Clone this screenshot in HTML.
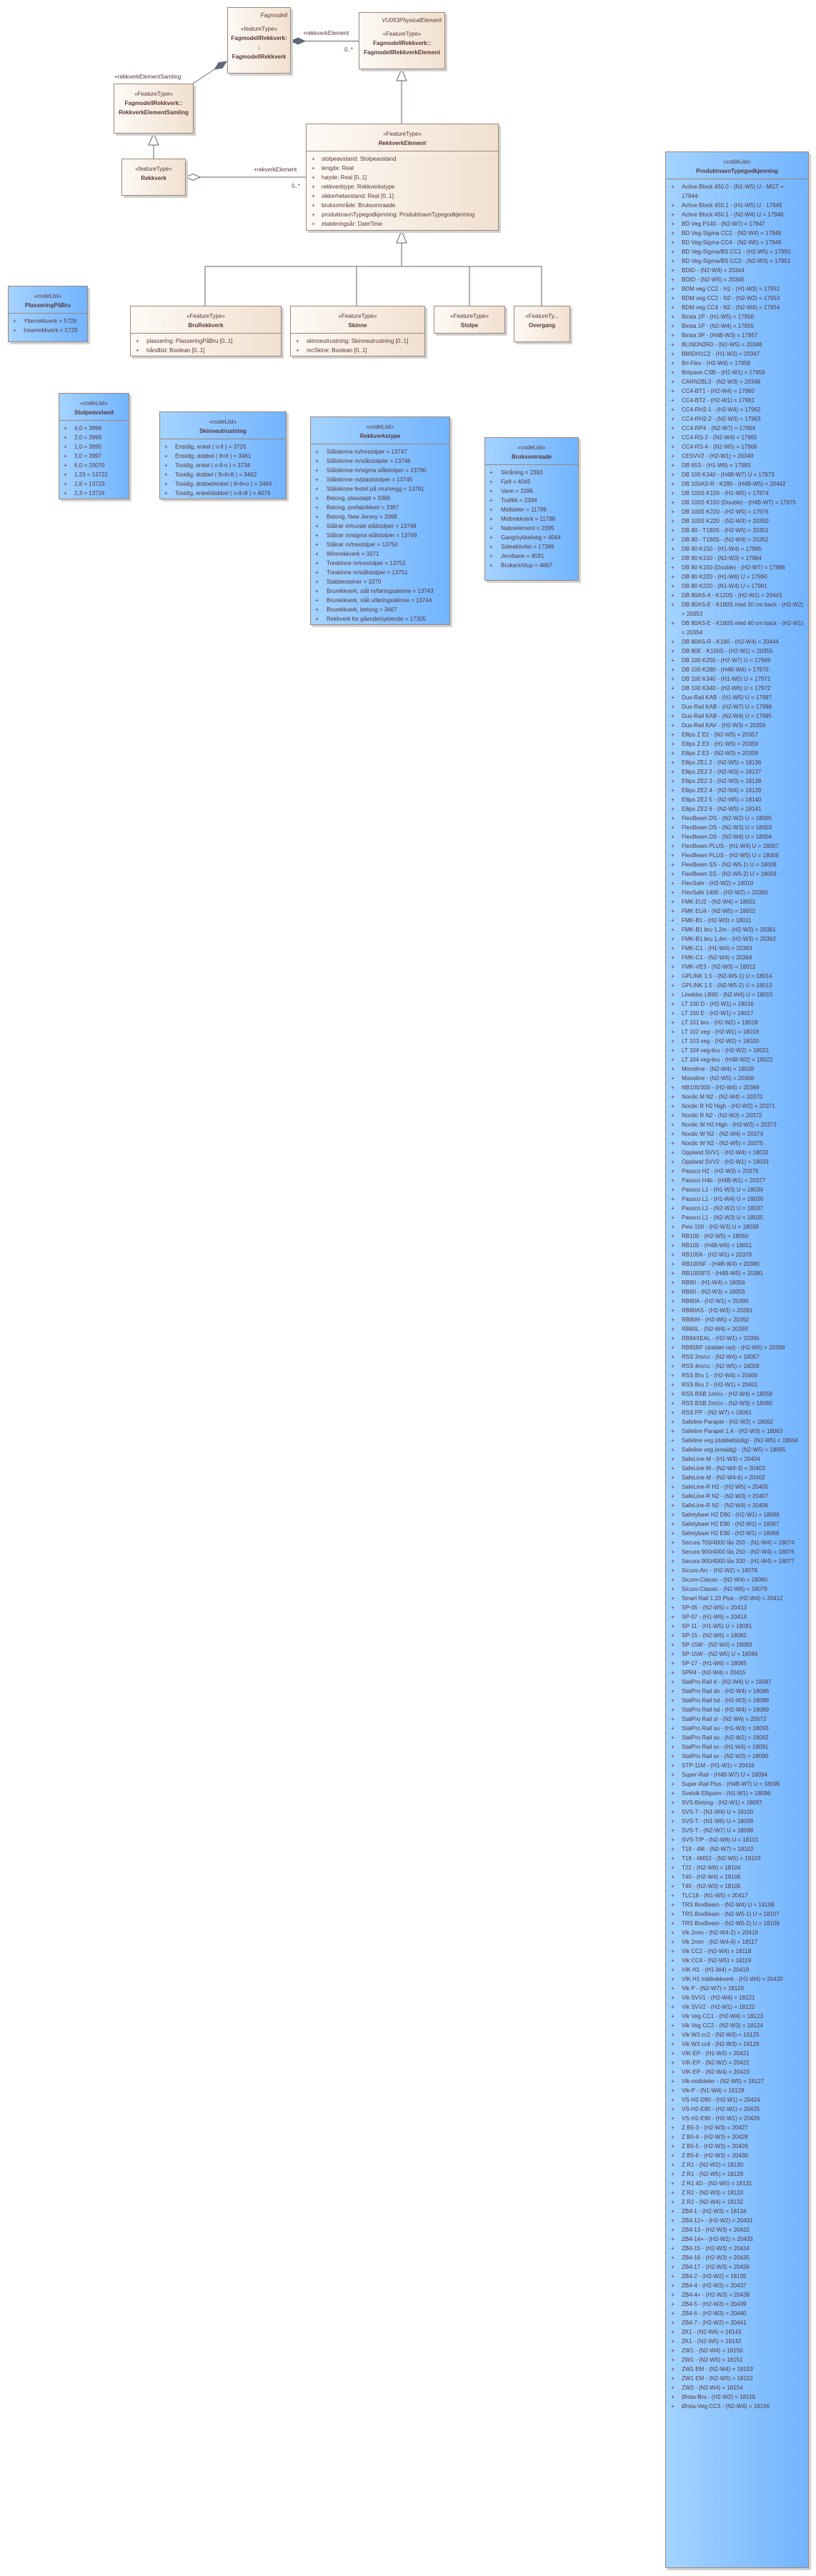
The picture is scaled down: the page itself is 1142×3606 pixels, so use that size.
<!DOCTYPE html>
<html><head><meta charset="utf-8">
<style>
html,body{margin:0;padding:0;background:#fff;}
body{width:1142px;height:3606px;position:relative;overflow:hidden;font-family:"Liberation Sans",sans-serif;}
.box{position:absolute;box-sizing:border-box;border:1px solid #9c8578;box-shadow:3px 3px 0 #d2d2d2;font-size:8px;color:#5a3636;overflow:hidden;}
.ft{background:linear-gradient(90deg,#fdfaf6,#f1e0cf);}
.cl{background:linear-gradient(90deg,#a4d3ff,#72b4ff);}
.t{position:absolute;left:0;right:0;text-align:center;line-height:13px;white-space:nowrap;}
.b{font-weight:bold;}
.i{font-style:italic;}
.r{text-align:right;right:4px;left:auto;}
.div{position:absolute;left:0;right:0;border-top:1px solid #9c8578;}
.row{position:absolute;line-height:13px;white-space:nowrap;}
.lbl{position:absolute;font-size:8px;color:#5a3636;line-height:13px;white-space:nowrap;}
svg{position:absolute;left:0;top:0;}
</style></head><body>
<svg width="1142" height="3606">
<g stroke="#5f6678" stroke-width="1" fill="none">
<line x1="427" y1="57.5" x2="502" y2="57.5"/>
<polygon points="407,57.5 417,53 427,57.5 417,62" fill="#5f6678"/>
<line x1="300.3" y1="97" x2="270" y2="117"/>
<polygon points="317,86 306.1,87.7 300.3,97 311,95.3" fill="#5f6678"/>
<line x1="215" y1="203" x2="215" y2="222"/>
<polygon points="215,187 208,203 222,203" fill="#fff"/>
<line x1="280" y1="248" x2="428" y2="248"/>
<polygon points="260,248 270,243.5 280,248 270,252.5" fill="#fff"/>
<line x1="562" y1="113" x2="562" y2="173"/>
<polygon points="562,97 555,113 569,113" fill="#fff"/>
<line x1="562" y1="340" x2="562" y2="373"/>
<polygon points="562,323 555,340 569,340" fill="#fff"/>
<polyline points="287,428 287,373 758,373 758,428"/>
<line x1="499" y1="373" x2="499" y2="428"/>
<line x1="657" y1="373" x2="657" y2="428"/>
</g>
</svg>

<div class="lbl" style="left:424px;top:39.5px">+rekkverkElement</div>
<div class="lbl" style="left:482px;top:62.5px">0..*</div>
<div class="lbl" style="left:160px;top:100.5px">+rekkverkElementSamling</div>
<div class="lbl" style="left:355px;top:230.5px">+rekverkElement</div>
<div class="lbl" style="left:408px;top:253.5px">0..*</div>

<div class="box ft" style="left:318px;top:10px;width:89px;height:93px">
<div class="t i r" style="top:3.5px">Fagmodell</div>
<div class="t" style="top:22.5px">«featureType»</div>
<div class="t b" style="top:35.5px">FagmodellRekkverk:</div>
<div class="t b" style="top:48.5px">:</div>
<div class="t b" style="top:61.5px">FagmodellRekkverk</div>
</div>

<div class="box ft" style="left:502px;top:17px;width:121px;height:80px">
<div class="t i r" style="top:3.5px">VU053PhysicalElement</div>
<div class="t" style="top:22.5px">«FeatureType»</div>
<div class="t b" style="top:35.5px">FagmodellRekkverk::</div>
<div class="t b" style="top:48.5px">FagmodellRekkverkElement</div>
</div>

<div class="box ft" style="left:159px;top:117px;width:112px;height:70px">
<div class="t" style="top:6.5px">«FeatureType»</div>
<div class="t b" style="top:19.5px">FagmodellRekkverk::</div>
<div class="t b" style="top:32.5px">RekkverkElementSamling</div>
</div>

<div class="box ft" style="left:170px;top:222px;width:90px;height:52px">
<div class="t" style="top:6.5px">«featureType»</div>
<div class="t b" style="top:19.5px">Rekkverk</div>
</div>

<div class="box ft" style="left:428px;top:173px;width:270px;height:150px" id="re">
<div class="t" style="top:6.5px">«FeatureType»</div>
<div class="t b i" style="top:19.5px">RekkverkElement</div>
<div class="div" style="top:37px"></div>
</div>

<div class="box cl" style="left:11px;top:400px;width:112px;height:79px" id="pb">
<div class="t" style="top:6.5px">«codeList»</div>
<div class="t b" style="top:19.5px">PlasseringPåBru</div>
<div class="div" style="top:37px"></div>
</div>

<div class="box ft" style="left:182px;top:428px;width:212px;height:71px" id="br">
<div class="t" style="top:6.5px">«FeatureType»</div>
<div class="t b" style="top:19.5px">BruRekkverk</div>
<div class="div" style="top:37px"></div>
</div>

<div class="box ft" style="left:406px;top:428px;width:189px;height:71px" id="sk">
<div class="t" style="top:6.5px">«FeatureType»</div>
<div class="t b" style="top:19.5px">Skinne</div>
<div class="div" style="top:37px"></div>
</div>

<div class="box ft" style="left:607px;top:428px;width:100px;height:39px">
<div class="t" style="top:6.5px">«FeatureType»</div>
<div class="t b" style="top:19.5px">Stolpe</div>
</div>

<div class="box ft" style="left:719px;top:428px;width:79px;height:51px">
<div class="t" style="top:6.5px">«FeatureTy...</div>
<div class="t b" style="top:19.5px">Overgang</div>
</div>

<div class="box cl" style="left:82px;top:550px;width:99px;height:149px" id="sa">
<div class="t" style="top:6.5px">«codeList»</div>
<div class="t b" style="top:19.5px">Stolpeavstand</div>
<div class="div" style="top:37px"></div>
</div>

<div class="box cl" style="left:223px;top:576px;width:178px;height:123px" id="su">
<div class="t" style="top:6.5px">«codeList»</div>
<div class="t b" style="top:19.5px">Skinneutrustning</div>
<div class="div" style="top:37px"></div>
</div>

<div class="box cl" style="left:434px;top:583px;width:196px;height:292px" id="rt">
<div class="t" style="top:6.5px">«codeList»</div>
<div class="t b" style="top:19.5px">Rekkverkstype</div>
<div class="div" style="top:37px"></div>
</div>

<div class="box cl" style="left:678px;top:612px;width:132px;height:201px" id="bo">
<div class="t" style="top:6.5px">«codeList»</div>
<div class="t b" style="top:19.5px">Bruksomraade</div>
<div class="div" style="top:37px"></div>
</div>

<div class="box cl" style="left:931px;top:212px;width:201px;height:3383px" id="pt">
<div class="t" style="top:6.5px">«codeList»</div>
<div class="t b" style="top:19.5px">ProduktnavnTypegodkjenning</div>
<div class="div" style="top:37px"></div>
</div>

<script>
const reAttrs = ["stolpeavstand: Stolpeavstand","lengde: Real","høyde: Real [0..1]","rekkverktype: Rekkverkstype","sikkerhetavstand: Real [0..1]","bruksområde: Bruksomraade","produktnavnTypegodkjenning: ProduktnavnTypegodkjenning","etableringsår: DateTime"];
const pbItems = ["Ytterrekkverk = 5728","Innerrekkverk = 5729"];
const brAttrs = ["plassering: PlasseringPåBru [0..1]","håndlist: Boolean [0..1]"];
const skAttrs = ["skinneutrustning: Skinneutrustning [0..1]","mcSkine: Boolean [0..1]"];
const saItems = ["4,0 = 3998","2,0 = 3996","1,0 = 3995","3,0 = 3997","6,0 = 20070","1,33 = 13722","1,8 = 13723","2,3 = 13724"];
const suItems = ["Ensidig, enkel ( o-ll ) = 3725","Ensidig, dobbel ( 8=ll ) = 3461","Tosidig, enkel ( o-ll-o ) = 3734","Tosidig, dobbel ( 8=ll=8 ) = 3462","Tosidig, dobbel/enkel ( 8=ll=o ) = 3464","Tosidig, enkel/dobbel ( o-ll=8 ) = 4076"];
const rtItems = ["Stålskinne m/trestolper = 13747","Stålskinne m/stålstolpler = 13746","Stålskinne m/sigma stålstolper = 13790","Stålskinne m/plaststolper = 13745","Stålskinne festet på mur/vegg = 13791","Betong, plasstøpt = 3366","Betong, prefabrikkert = 3367","Betong, New Jersey = 3368","Stålrør m/runde stålstolper = 13748","Stålrør m/sigma stålstolper = 13749","Stålrør m/trestolper = 13750","Wirerekkverk = 3371","Treskinne m/trestolper = 13752","Treskinne m/stålstolper = 13751","Stabbesteiner = 3370","Brurekkverk, stål m/føringsskinne = 13743","Brurekkverk, stål u/føringsskinne = 13744","Brurekkverk, betong = 3467","Rekkverk for gående/syklende = 17305"];
const boItems = ["Skråning = 2393","Fjell = 4045","Vann = 2396","Trafikk = 2394","Midtdeler = 11789","Midtrekkverk = 11788","Naboelement = 2395","Gang/sykkelveg = 4044","Sideaktivitet = 17369","Jernbane = 4591","Brukant/stup = 4667"];
const ptItems = ["Active Block 450.0 - (N1-W5) U - MGT =|17944-","Active Block 450.1 - (H1-W5) U - 17945","Active Block 450.1 - (N2-W4) U = 17946","BD Veg P140 - (N2-W7) = 17947","BD Veg-Sigma CC2  - (N2-W4) = 17948","BD Veg-Sigma CC4 - (N2-W5) = 17949","BD Veg-Sigma/BS CC1  - (H2-W5) = 17950","BD Veg-Sigma/BS CC2 - (N2-W3) = 17951","BDID - (N2-W4) = 20344","BDID - (N2-W5) = 20345","BDM veg CC2 - H1 - (H1-W3) = 17952","BDM veg CC2 - N2 - (N2-W2) = 17953","BDM veg CC4 - N2 - (N2-W4) = 17954","Birsta 1P - (H1-W5) = 17956","Birsta 1P - (N2-W4) = 17955","Birsta 3P - (H4B-W3) = 17957","BLINDN2R0 - (N2-W5) = 20346","BMIDH1C2 - (H1-W3) = 20347",
"Bri-Flex - (H2-W4) = 17958","Britpave CSB  - (H2-W1) = 17959","CARN2BL3 - (N2-W3) = 20348","CC4-BT1 - (H2-W4) = 17960","CC4-BT2 - (H2-W1) = 17961","CC4-RH2-1 - (H2-W4) = 17962","CC4-RH2-2 - (N2-W3) = 17963","CC4-RP4 - (N2-W7) = 17964","CC4-RS-2 - (N2-W4) = 17965","CC4-RS-4  - (N2-W5) = 17966","CESVV2 - (H2-W1) = 20349","DB 65S - (H1-W6) = 17983","DB 100 K340 - (H4B-W7) U = 17973","DB 100AS-R - K280 - (H4B-W5) = 20442","DB 100S K150 - (H1-W5) = 17974","DB 100S K150 (Double) - (H4B-W7) = 17975","DB 100S K220 - (H2-W5) = 17976","DB 100S K220 - (N2-W3) = 20350","DB 80 - T180S - (H2-W5) = 20351","DB 80 - T180S - (N2-W4) = 20352","DB 80 K150 - (H1-W4) = 17985","DB 80 K150 - (N2-W3) = 17984","DB 80 K150 (Double) - (H2-W7) = 17986","DB 80 K220 - (H1-W6) U = 17990","DB 80 K220 - (N1-W4) U = 17991","DB 80AS-A - K120S - (H2-W1) = 20443","DB 80AS-E - K180S med 30 cm back - (H2-W2)|= 20353","DB 80AS-E - K180S med 40 cm back - (H2-W1)|= 20354","DB 80AS-R - K180 - (H2-W4) = 20444","DB 80E - K150S - (H2-W1) = 20355","DB 100 K250  - (H2-W7) U = 17969","DB 100 K280 - (H4B-W6) = 17970","DB 100 K340 - (H1-W5) U = 17971","DB 100 K340 - (H2-W6) U = 17972","Duo-Rail KAB - (H1-W5) U = 17997","Duo-Rail KAB - (H2-W7) U = 17996","Duo-Rail KAB - (N2-W4) U = 17995",
"Duo-Rail KAV - (H2-W3) = 20356","Ellips Z E2 - (N2-W5) = 20357","Ellips Z E3 - (H1-W5) = 20359","Ellips Z E3 - (N2-W3) = 20358","Ellips ZE1 2 - (N2-W5) = 18136","Ellips ZE2 2 - (N2-W3) = 18137","Ellips ZE2 3 - (N2-W3) = 18138","Ellips ZE2 4 - (N2-W4) = 18139","Ellips ZE2 5 - (N2-W5) = 18140","Ellips ZE2 6 - (N2-W5) = 18141","FlexBeam DS - (N2-W2) U = 18005","FlexBeam DS - (N2-W3) U = 18003","FlexBeam DS - (N2-W4) U = 18004","FlexBeam PLUS - (H1-W4) U = 18007","FlexBeam PLUS - (H2-W5) U = 18006","FlexBeam SS - (N2-W5-1) U = 18008","FlexBeam SS - (N2-W5-2) U = 18009","FlexSafe - (H2-W2) = 18010","FlexSafe 1400 - (H2-W2) = 20360","FMK EU2 - (N2-W4) = 18001","FMK EU4 - (N2-W5) = 18002","FMK-B1 - (H2-W3) = 18011","FMK-B1 bru 1,2m - (H2-W3) = 20361","FMK-B1 bru 1,4m - (H2-W3) = 20362","FMK-C1 - (H1-W4) = 20363","FMK-C1 - (N2-W4) = 20364","FMK-VE3 - (N2-W3) = 18012","GPLINK 1.5 - (N2-W5-1) U = 18014","GPLINK 1.5 - (N2-W5-2) U = 18013","Linebloc LB90 - (N2-W4) U = 18015","LT 100 D - (H2-W1) = 18016","LT 100 E - (H2-W1) = 18017","LT 101 bru - (H2-W2) = 18018","LT 102 veg - (H2-W1) = 18019","LT 103 veg - (H2-W2) = 18020","LT 104 veg-bru - (H2-W2) = 18021","LT 104 veg-bru - (H4B-W2) = 18022","Monoline - (N2-W4) = 18028","Monoline - (N2-W5) = 20368","NB100/300 - (H2-W4) = 20369",
"Nordic M N2 - (N2-W4) = 20370","Nordic R H2 High - (H2-W2) = 20371","Nordic R N2 - (N2-W3) = 20372","Nordic W H2 High - (H2-W2) = 20373","Nordic W N2 - (N2-W4) = 20374","Nordic W N2 - (N2-W5) = 20375","Oppland SVV1 - (H2-W4) = 18032","Oppland SVV2  - (H2-W1) = 18033","Passco H2 - (H2-W3) = 20376","Passco H4b - (H4B-W1) = 20377","Passco L1 - (H1-W3) U = 18034","Passco L1 - (H1-W4) U = 18036","Passco L1 - (N2-W2) U = 18037","Passco L1 - (N2-W3) U = 18035","Peis 100 - (H2-W3) U = 18038","RB100 - (H2-W5) = 18050","RB100 - (H4B-W6) = 18051","RB100A - (H2-W1) = 20379","RB100SF - (H4B-W4) = 20380","RB100SFS - (H4B-W5) = 20381","RB80 - (H1-W4) = 18056","RB80 - (N2-W3) = 18055","RB80A - (H2-W1) = 20390","RB80AS - (H2-W3) = 20391","RB80H - (H2-W5) = 20392","RB80L - (N2-W4) = 20393","RB84XEAL - (H2-W1) = 20395","RB85BF (dobbel rad) - (H2-W5) = 20399","RSS 2m/cc - (N2-W4) = 18057","RSS 4m/cc - (N2-W5) = 18058","RSS Bru 1 - (H2-W4) = 20400","RSS Bru 2 - (H2-W1) = 20401","RSS BSB 1m/cc  - (H2-W4) = 18059","RSS BSB 2m/cc - (N2-W3) = 18060","RSS PP - (N2-W7) = 18061","Safeline Parapet - (H2-W2) = 18062","Safeline Parapet 1,4 - (H2-W3) = 18063","Safeline veg (dobbeltsidig) - (N2-W5) = 18064","Safeline veg (ensidig) - (N2-W5) = 18065","SafeLine-M - (H1-W3) = 20404",
"SafeLine-M - (N2-W4-3) = 20403","SafeLine-M - (N2-W4-6) = 20402","SafeLine-R H2 - (H2-W5) = 20405","SafeLine-R N2 - (N2-W3) = 20407","SafeLine-R N2 - (N2-W4) = 20406","Safetybaer H2 D90 - (H2-W1) = 18066","Safetybaer H2 E80 - (H2-W1) = 18067","Safetybaer H2 E90 - (H2-W1) = 18068","Secura 700/4000 lås 250 - (N1-W4) = 18074","Secura 900/4000 lås 250 - (N2-W4) = 18076","Secura 900/4000 lås 330 - (H1-W4) = 18077","Sicuro-Arc  - (H2-W2) = 18078","Sicuro-Classic - (N2-W4) = 18080","Sicuro-Classic - (N2-W6) = 18079","Smart Rail 1.33 Plus - (H2-W4) = 20412","SP-05 - (N2-W5) = 20413","SP-07 - (H1-W6) = 20414","SP-11 - (H1-W5) U = 18081","SP-15 - (N2-W6) = 18082","SP-15W - (N2-W4) = 18083","SP-15W - (N2-W5) U = 18084","SP-17 - (H1-W6) = 18085","SPR4 - (N2-W4) = 20415","StalPro Rail d  - (N2-W4) U = 18087","StalPro Rail dn  - (H2-W4) = 18086","StalPro Rail hd  - (H1-W3) = 18088","StalPro Rail hd  - (H2-W4) = 18089","StalPro Rail sl  - (N2 W4) = 20072","StalPro Rail su - (H1-W3) = 18093","StalPro Rail su - (N2-W2) = 18092","StalPro Rail sx - (H1-W4) = 18091","StalPro Rail sx - (N2-W3) = 18090","STP-11M - (H1-W1) = 20416","Super-Rail - (H4B-W7) U = 18094","Super-Rail Plus - (H4B-W7) U = 18095","Svelvik Ellipsen - (N1-W1) = 18096","SVS-Betong - (H2-W1) = 18097","SVS-T - (N1-W4) U = 18100","SVS-T - (N1-W6) U = 18099","SVS-T - (N2-W7) U = 18098",
"SVS-T/P - (N2-W6) U = 18101","T18 - 4M - (N2-W7) = 18102","T18 - 4MS2 - (N2-W5) = 18103","T22 - (N2-W6) = 18104","T40 - (H2-W4) = 18106","T40 - (N2-W3) = 18105","TLC18 - (N1-W5) = 20417","TRS BoxBeam - (N2-W4) U = 18108","TRS BoxBeam - (N2-W5-1) U = 18107","TRS BoxBeam - (N2-W5-2) U = 18109","Vik 2mm - (N2-W4-2) = 20418","Vik 2mm - (N2-W4-4) = 18117","Vik CC2 - (N2-W4) = 18118","Vik CC4 - (N2-W5) = 18119","VIK H1 - (H1-W4) = 20419","VIK H1 midtrekkverk - (H1-W4) = 20420","Vik P - (N2-W7) = 18120","Vik SVV1 - (H2-W4) = 18121","Vik SVV2  - (H2-W1) = 18122","Vik Veg CC1  - (H2-W4) = 18123","Vik Veg CC2  - (N2-W3) = 18124","Vik W3 cc2 - (N2-W3) = 18125","Vik W3 cc4 - (N2-W3) = 18126","VIK-EP - (H1-W3) = 20421","VIK-EP - (N2-W2) = 20422","VIK-EP - (N2-W4) = 20423","Vik-midtdeler - (N2-W5) = 18127","Vik-P - (N1-W4) = 18128","VS-H2-D90 - (H2-W1) = 20424","VS-H2-E80 - (H2-W1) = 20425","VS-H2-E90 - (H2-W1) = 20426","Z B5-3 - (H2-W3) = 20427","Z B5-4 - (H2-W3) = 20428","Z B5-5 - (H2-W3) = 20429","Z B5-6 - (H2-W3) = 20430","Z R1 - (N2-W2) = 18130","Z R1 - (N2-W5) = 18129","Z R1 4D - (N2-W5) = 18131","Z R2 - (N2-W3) = 18133","Z R2 - (N2-W4) = 18132",
"ZB4-1 - (H2-W3) = 18134","ZB4-12+ - (H2-W2) = 20431","ZB4-13 - (H2-W3) = 20432","ZB4-14+ - (H2-W2) = 20433","ZB4-15 - (H2-W3) = 20434","ZB4-16 - (H2-W3) = 20435","ZB4-17 - (H2-W3) = 20436","ZB4-2 - (H2-W2) = 18135","ZB4-4 - (H2-W3) = 20437","ZB4-4+ - (H2-W3) = 20438","ZB4-5 - (H2-W3) = 20439","ZB4-6 - (H2-W3) = 20440","ZB4-7 - (H2-W2) = 20441","ZK1  - (N2-W6) = 18143","ZK1 - (N2-W5) = 18142","ZW1 - (N2-W4) = 18150","ZW1 - (N2-W5) = 18151","ZW1 EM - (N2-W4) = 18153","ZW1 EM - (N2-W5) = 18152","ZW2 - (N2-W4) = 18154","Ørsta-Bru - (H2-W2) = 18155","Ørsta-Veg CC3 - (N2-W4) = 18156"];

function addRows(boxId, items, plusX, textX) {
  const box = document.getElementById(boxId);
  let line = 0;
  items.forEach(function(item) {
    const parts = item.split('|');
    parts.forEach(function(part, pi) {
      const top = 41.5 + line * 13;
      if (pi === 0) {
        const p = document.createElement('div');
        p.className = 'row';
        p.style.left = plusX + 'px';
        p.style.top = top + 'px';
        p.textContent = '+';
        
        
        box.appendChild(p);
      }
      const t = document.createElement('div');
      t.className = 'row';
      t.style.left = textX + 'px';
      t.style.top = top + 'px';
      t.textContent = part;
      
      
      box.appendChild(t);
      line++;
    });
  });
}
addRows('re', reAttrs, 7, 21);
addRows('pb', pbItems, 6, 21);
addRows('br', brAttrs, 7, 22);
addRows('sk', skAttrs, 7, 22);
addRows('sa', saItems, 6, 21);
addRows('su', suItems, 6, 21);
addRows('rt', rtItems, 6, 22);
addRows('bo', boItems, 6, 22);
addRows('pt', ptItems, 7, 22);
</script>
</body></html>
